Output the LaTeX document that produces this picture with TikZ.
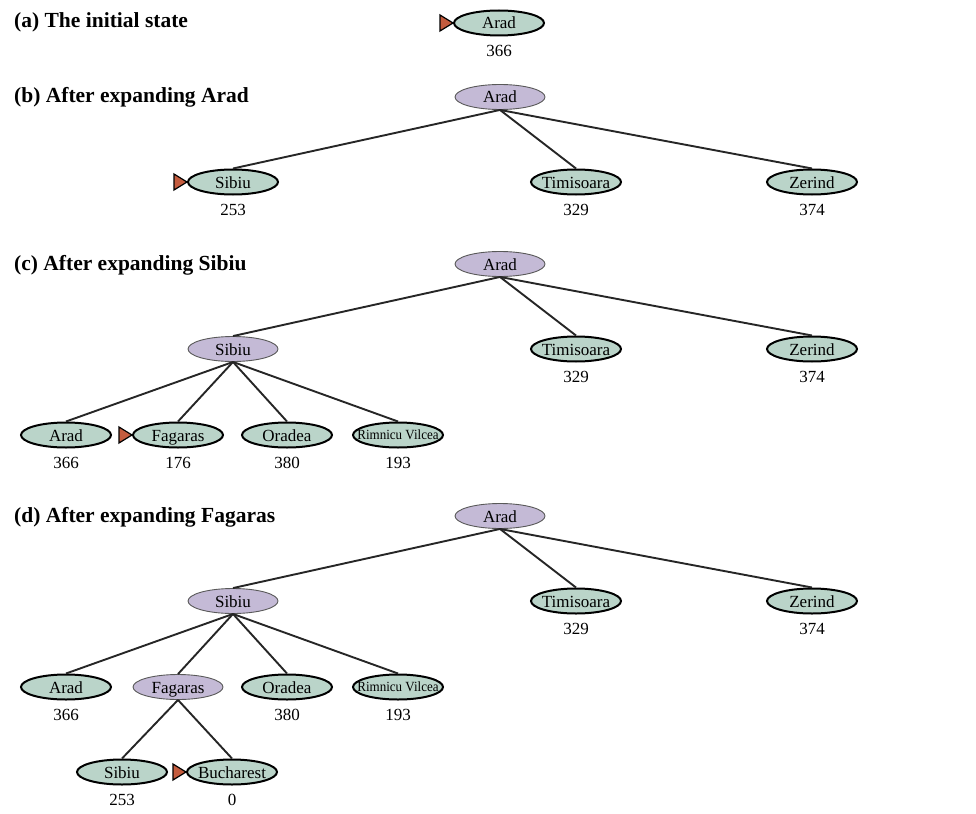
\documentclass[tikz,border=0pt]{standalone}
\usepackage{fontspec}
\setmainfont{Liberation Serif}
\usetikzlibrary{shapes.geometric}
\definecolor{frontfill}{RGB}{186,212,201}
\definecolor{expfill}{RGB}{196,186,214}
\definecolor{markfill}{RGB}{196,92,62}
\newcommand{\nm}[1]{\makebox[0pt]{#1}}
\newcommand{\rv}{\makebox[0pt]{\raisebox{1.2pt}{\fontsize{14}{16}\selectfont\scalebox{0.93}[1]{Rimnicu Vilcea}}}}
\begin{document}
\begin{tikzpicture}[x=1pt,y=-1pt,
 city/.style={ellipse,inner sep=0pt,minimum width=90pt,minimum height=25pt,text height=14pt,text depth=2pt,font=\fontsize{17}{20}\selectfont},
 front/.style={city,fill=frontfill,draw=black,line width=2pt},
 expd/.style={city,fill=expfill,draw=black!65,line width=0.9pt},
 val/.style={inner sep=0pt,font=\fontsize{17}{20}\selectfont},
 tag/.style={anchor=west,inner sep=0pt,font=\fontsize{21.5}{25}\selectfont\bfseries},
 edge/.style={line width=1.9pt,draw=black!85},
 marker/.style={fill=markfill,draw=black,line width=1.2pt,line join=miter}]
 \useasboundingbox (0,0) rectangle (976,813);
 \node[tag] (la) at (14,22) {(a) The initial state};
 \node[tag] (lb) at (14,97) {(b) After expanding Arad};
 \node[tag] (lc) at (14,265) {(c) After expanding Sibiu};
 \node[tag] (ld) at (14,517) {(d) After expanding Fagaras};
 \node[front] (a0) at (499,23) {\nm{Arad}};
 \node[val] (va0) at (499,51) {366};
 \draw[marker] (a0.west) -- ++(-13,-8) -- ++(0,16) -- cycle;
 \node[expd] (b0) at (500,97) {\nm{Arad}};
 \node[front] (b1) at (233,182) {\nm{Sibiu}};
 \node[front] (b2) at (576,182) {\nm{Timisoara}};
 \node[front] (b3) at (812,182) {\nm{Zerind}};
 \node[val] (vb1) at (233,210) {253};
 \node[val] (vb2) at (576,210) {329};
 \node[val] (vb3) at (812,210) {374};
 \draw[marker] (b1.west) -- ++(-13,-8) -- ++(0,16) -- cycle;
 \draw[edge] (b0.south) -- (b1.north);
 \draw[edge] (b0.south) -- (b2.north);
 \draw[edge] (b0.south) -- (b3.north);
 \node[expd] (c0) at (500,264) {\nm{Arad}};
 \node[expd] (c1) at (233,349) {\nm{Sibiu}};
 \node[front] (c2) at (576,349) {\nm{Timisoara}};
 \node[front] (c3) at (812,349) {\nm{Zerind}};
 \node[val] (vc2) at (576,377) {329};
 \node[val] (vc3) at (812,377) {374};
 \node[front] (c11) at (66,435) {\nm{Arad}};
 \node[front] (c12) at (178,435) {\nm{Fagaras}};
 \node[front] (c13) at (287,435) {\nm{Oradea}};
 \node[front] (c14) at (398,435) {\rv};
 \node[val] (vc11) at (66,463) {366};
 \node[val] (vc12) at (178,463) {176};
 \node[val] (vc13) at (287,463) {380};
 \node[val] (vc14) at (398,463) {193};
 \draw[marker] (c12.west) -- ++(-13,-8) -- ++(0,16) -- cycle;
 \draw[edge] (c0.south) -- (c1.north);
 \draw[edge] (c0.south) -- (c2.north);
 \draw[edge] (c0.south) -- (c3.north);
 \draw[edge] (c1.south) -- (c11.north);
 \draw[edge] (c1.south) -- (c12.north);
 \draw[edge] (c1.south) -- (c13.north);
 \draw[edge] (c1.south) -- (c14.north);
 \node[expd] (d0) at (500,516) {\nm{Arad}};
 \node[expd] (d1) at (233,601) {\nm{Sibiu}};
 \node[front] (d2) at (576,601) {\nm{Timisoara}};
 \node[front] (d3) at (812,601) {\nm{Zerind}};
 \node[val] (vd2) at (576,629) {329};
 \node[val] (vd3) at (812,629) {374};
 \node[front] (d11) at (66,687) {\nm{Arad}};
 \node[expd] (d12) at (178,687) {\nm{Fagaras}};
 \node[front] (d13) at (287,687) {\nm{Oradea}};
 \node[front] (d14) at (398,687) {\rv};
 \node[val] (vd11) at (66,715) {366};
 \node[val] (vd13) at (287,715) {380};
 \node[val] (vd14) at (398,715) {193};
 \node[front] (d121) at (122,772) {\nm{Sibiu}};
 \node[front] (d122) at (232,772) {\nm{Bucharest}};
 \node[val] (vd121) at (122,800) {253};
 \node[val] (vd122) at (232,800) {0};
 \draw[marker] (d122.west) -- ++(-13,-8) -- ++(0,16) -- cycle;
 \draw[edge] (d0.south) -- (d1.north);
 \draw[edge] (d0.south) -- (d2.north);
 \draw[edge] (d0.south) -- (d3.north);
 \draw[edge] (d1.south) -- (d11.north);
 \draw[edge] (d1.south) -- (d12.north);
 \draw[edge] (d1.south) -- (d13.north);
 \draw[edge] (d1.south) -- (d14.north);
 \draw[edge] (d12.south) -- (d121.north);
 \draw[edge] (d12.south) -- (d122.north);
\end{tikzpicture}
\end{document}
